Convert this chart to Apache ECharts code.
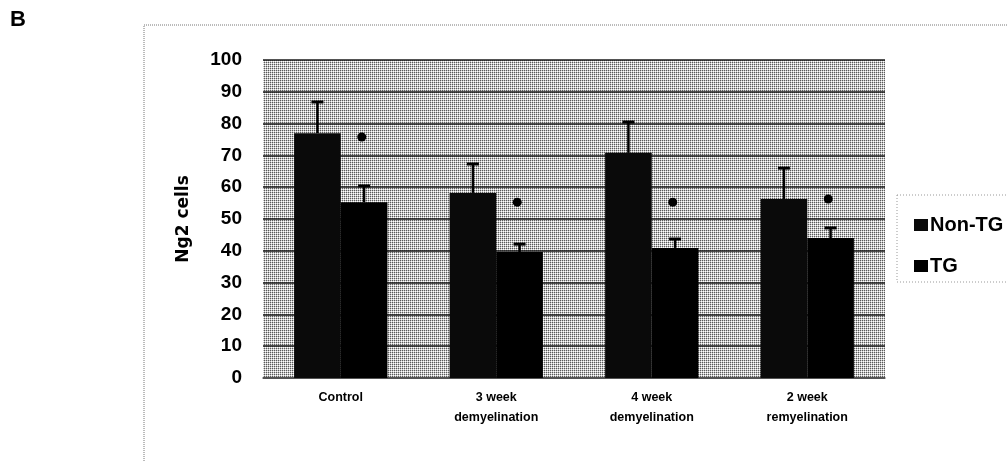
<!DOCTYPE html>
<html>
<head>
<meta charset="utf-8">
<script src="https://cdn.jsdelivr.net/npm/echarts@6/dist/echarts.min.js"></script>
<style>
html,body{margin:0;padding:0;background:#fff;}
#chart{width:1007px;height:462px;}
</style>
</head>
<body>
<div id="chart"></div>
<script>
const categories = ['Control', '3 week\ndemyelination', '4 week\ndemyelination', '2 week\nremyelination'];
const seriesNames = ['Non-TG', 'TG'];
const nonTG = [77, 58.2, 70.8, 56.3];
const nonTGErrTop = [86.8, 67.3, 80.5, 66];
const tg = [55.3, 39.6, 40.9, 44];
const tgErrTop = [60.4, 42.1, 43.7, 47.2];
const sigMarks = [75.8, 55.3, 55.3, 56.3];
const yTicks = [0, 10, 20, 30, 40, 50, 60, 70, 80, 90, 100];

// dither-like background pattern
const pat = document.createElement('canvas');
pat.width = 2; pat.height = 2;
const pctx = pat.getContext('2d');
pctx.fillStyle = '#ffffff'; pctx.fillRect(0, 0, 2, 2);
pctx.fillStyle = '#5a5a5a'; pctx.fillRect(0, 0, 1, 1);
pctx.fillStyle = '#c6c6c6'; pctx.fillRect(1, 0, 1, 1); pctx.fillRect(0, 1, 1, 1);

const chart = echarts.init(document.getElementById('chart'), null, {renderer: 'canvas'});

function errRender(vals, tops, frac) {
  return function (params, api) {
    const i = api.value(0);
    const p0 = api.coord([i, vals[i]]);
    const p1 = api.coord([i, tops[i]]);
    const band = api.size([1, 0])[0];
    const cx = p0[0] + frac * band;
    const cap = 6;
    return {
      type: 'group',
      children: [
        {type: 'line', shape: {x1: cx, y1: p0[1], x2: cx, y2: p1[1]}, style: {stroke: '#000', lineWidth: 2.5}},
        {type: 'line', shape: {x1: cx - cap, y1: p1[1], x2: cx + cap, y2: p1[1]}, style: {stroke: '#000', lineWidth: 3}}
      ]
    };
  };
}

function dotRender(params, api) {
  const i = api.value(0);
  const p = api.coord([i, sigMarks[i]]);
  const band = api.size([1, 0])[0];
  return {type: 'circle', shape: {cx: p[0] + 0.135 * band, cy: p[1], r: 4.5}, style: {fill: '#000'}};
}

const idx = categories.map((c, i) => [i]);

chart.setOption({
  animation: false,
  backgroundColor: '#ffffff',
  grid: {left: 263, right: 122, top: 60, bottom: 84, show: true,
         backgroundColor: {image: pat, repeat: 'repeat'}, borderWidth: 0},
  legend: {
    orient: 'vertical', left: 909, top: 210, itemWidth: 14, itemHeight: 12, itemGap: 21,
    icon: 'rect',
    textStyle: {fontFamily: 'Liberation Sans, Arial, sans-serif', fontWeight: 'bold', fontSize: 20, color: '#000', padding: [0, 0, 0, -3]},
    data: seriesNames
  },
  graphic: [
    {type: 'rect', shape: {x: 144, y: 25, width: 900, height: 500}, style: {fill: 'none', stroke: '#777', lineWidth: 1, lineDash: [1, 1]}, z: -1},
    {type: 'rect', shape: {x: 897, y: 195, width: 200, height: 87}, style: {fill: '#fff', stroke: '#999', lineWidth: 1, lineDash: [1, 2]}, z: 0},
    {type: 'text', left: 10, top: 9, style: {text: 'B', fontFamily: 'Liberation Sans, Arial, sans-serif', fontWeight: 'bold', fontSize: 22, fill: '#000'}}
  ],
  xAxis: {
    type: 'category', data: categories,
    axisLine: {lineStyle: {color: '#555', width: 1.5}},
    axisTick: {show: false},
    axisLabel: {color: '#000', fontFamily: 'Liberation Sans, Arial, sans-serif', fontWeight: 'bold', fontSize: 12.5, lineHeight: 20, margin: 10}
  },
  yAxis: {
    type: 'value', min: 0, max: 100, interval: 10,
    name: 'Ng2 cells', nameLocation: 'middle', nameGap: 71, nameRotate: 90,
    nameTextStyle: {color: '#000', fontFamily: 'DejaVu Sans, Liberation Sans, sans-serif', fontWeight: 'bold', fontSize: 17},
    axisLine: {show: false}, axisTick: {show: false},
    axisLabel: {color: '#000', fontFamily: 'Liberation Sans, Arial, sans-serif', fontWeight: 'bold', fontSize: 19, margin: 21,
      formatter: v => (yTicks.indexOf(v) >= 0 ? String(v) : '')},
    splitLine: {lineStyle: {color: '#1a1a1a', width: 1.6}}
  },
  series: [
    {name: seriesNames[0], type: 'bar', data: nonTG, barWidth: '30%', barGap: '0%', itemStyle: {color: '#0a0a0a'}, z: 2},
    {name: seriesNames[1], type: 'bar', data: tg, barWidth: '30%', barGap: '0%', itemStyle: {color: '#000'}, z: 2},
    {type: 'custom', renderItem: errRender(nonTG, nonTGErrTop, -0.15), data: idx, z: 3, silent: true},
    {type: 'custom', renderItem: errRender(tg, tgErrTop, 0.15), data: idx, z: 3, silent: true},
    {type: 'custom', renderItem: dotRender, data: idx, z: 3, silent: true}
  ]
});
</script>
</body>
</html>
